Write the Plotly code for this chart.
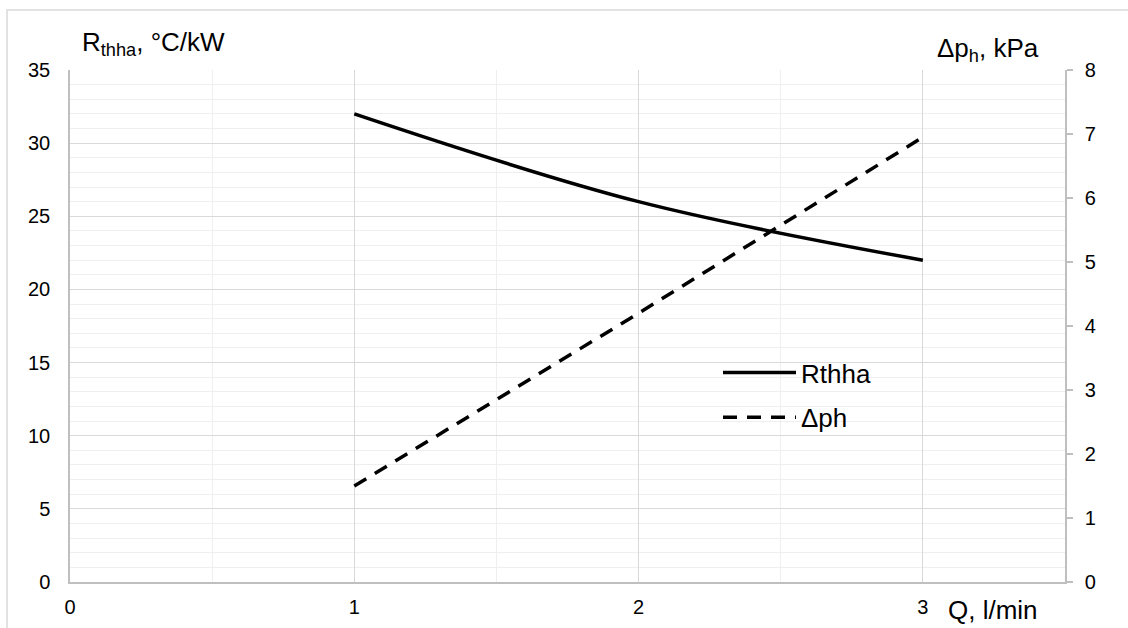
import plotly.graph_objects as go

Q = [1, 2, 3]
R_thha = [32, 26, 22]
dp_h = [1.5, 4.2, 6.95]

x_ticks = [0, 1, 2, 3]
y_left_ticks = [0, 5, 10, 15, 20, 25, 30, 35]
y_right_ticks = [0, 1, 2, 3, 4, 5, 6, 7, 8]

W, H = 1128, 628
ml, mr, mt, mb = 70, 63, 70, 46
pw, ph = W - ml - mr, H - mt - mb

FONT = "Liberation Sans, Arial, sans-serif"
fig = go.Figure()
fig.add_trace(go.Scatter(x=Q, y=R_thha, name="Rthha", mode="lines", legendgroup="a",
                         line=dict(color="black", width=3.5, shape="spline", smoothing=1.0),
                         yaxis="y"))
fig.add_trace(go.Scatter(x=Q, y=dp_h, name="Δph", mode="lines", legendgroup="b",
                         line=dict(color="black", width=3.5, dash="14px,10px"),
                         yaxis="y2"))

def px_x(p):
    return (p - ml) / pw

def px_y(p):
    return 1 - (p - mt) / ph

fig.update_layout(
    width=W, height=H,
    margin=dict(l=ml, r=mr, t=mt, b=mb, autoexpand=False),
    paper_bgcolor="white", plot_bgcolor="white",
    font=dict(family=FONT, size=20, color="black"),
    xaxis=dict(range=[0, 3.5], tickvals=x_ticks, automargin=False,
               showline=True, linecolor="#bfbfbf", linewidth=1.5,
               showgrid=True, gridcolor="#d9d9d9", gridwidth=1.3, zeroline=False,
               ticks="", ticklabelstandoff=6,
               minor=dict(dtick=0.5, showgrid=True, gridcolor="#efefef", gridwidth=1.3)),
    yaxis=dict(range=[0, 35], tickvals=y_left_ticks, automargin=False,
               showline=True, linecolor="#bfbfbf", linewidth=1.5,
               showgrid=True, gridcolor="#d9d9d9", gridwidth=1.3, zeroline=False,
               ticks="", ticklabelstandoff=14,
               minor=dict(dtick=1, showgrid=True, gridcolor="#efefef", gridwidth=1.3)),
    yaxis2=dict(range=[0, 8], tickvals=y_right_ticks, overlaying="y", side="right", automargin=False,
                showline=True, linecolor="#bfbfbf", linewidth=1.5, showgrid=False, zeroline=False,
                ticks="outside", ticklen=6, tickcolor="#bfbfbf", tickwidth=1.5, ticklabelstandoff=8),
    showlegend=True,
    legend=dict(x=px_x(718), y=px_y(349), xanchor="left", yanchor="top",
                bgcolor="rgba(0,0,0,0)", font=dict(size=26, family=FONT),
                tracegroupgap=8, itemwidth=73),
    shapes=[dict(type="rect", xref="paper", yref="paper",
                 x0=px_x(7), x1=px_x(1140), y0=px_y(640), y1=px_y(10),
                 line=dict(color="#d9d9d9", width=1.5), fillcolor="rgba(0,0,0,0)", layer="below")],
    annotations=[
        dict(text="R<sub>thha</sub>, °C/kW", xref="paper", yref="paper", x=px_x(80), y=px_y(43),
             xanchor="left", yanchor="middle", showarrow=False, font=dict(size=26)),
        dict(text="Δp<sub>h</sub>, kPa", xref="paper", yref="paper", x=px_x(935), y=px_y(49),
             xanchor="left", yanchor="middle", showarrow=False, font=dict(size=26)),
        dict(text="Q, l/min", xref="paper", yref="paper", x=px_x(946), y=px_y(610),
             xanchor="left", yanchor="middle", showarrow=False, font=dict(size=26)),
    ],
)
fig.write_html("out.html", config={"displayModeBar": False},
               post_script="document.body.style.margin='0';document.body.style.padding='0';")
